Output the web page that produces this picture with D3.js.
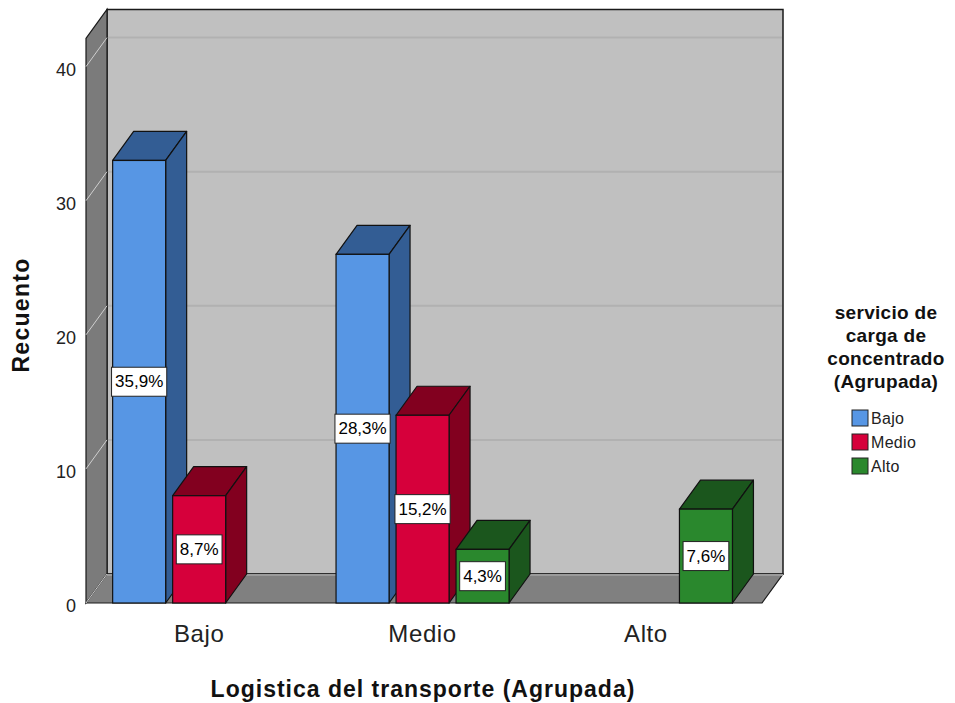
<!DOCTYPE html>
<html>
<head>
<meta charset="utf-8">
<script src="https://cdn.jsdelivr.net/npm/d3@7"></script>
<style>
  html, body { margin: 0; padding: 0; background: #fff; }
  svg { display: block; font-family: "Liberation Sans", Arial, sans-serif; }
</style>
</head>
<body>
<svg id="chart" width="955" height="703"></svg>
<script>
// Categories on the X axis and the grouping series
const categories = ["Bajo", "Medio", "Alto"];
const seriesNames = ["Bajo", "Medio", "Alto"];

// Counts (Recuento) per series, aligned with categories
const serieBajo  = [33, 26, 0];
const serieMedio = [8, 14, 0];
const serieAlto  = [0, 4, 7];

const yTicks = [0, 10, 20, 30, 40];

const seriesValues = [serieBajo, serieMedio, serieAlto];
const total = d3.sum(seriesValues.flat());

const frontColors = ["#5796e4", "#d6003b", "#2a882d"];
const darkColors  = ["#335d94", "#82001f", "#1b561d"];

// Oblique depth offset of the 3D box
const DX = 21, DY = -29;
const wallTopValue = 42.1;

const svg = d3.select("#chart");

const x = d3.scaleBand().domain(categories).range([86, 762]).paddingOuter(0.013).align(0.25);
const groupWidth = 173;
const sub = d3.scaleBand().domain(seriesNames).range([0, groupWidth]).paddingInner(7 / 60);
const y = d3.scaleLinear().domain([0, 40]).range([603, 66.6]);

const left = x.range()[0], right = x.range()[1];
const y0 = y(0), yTop = y(wallTopValue);

const g = svg.append("g");

// Back wall
g.append("polygon")
  .attr("points", [[left + DX, yTop + DY], [right + DX, yTop + DY], [right + DX, y0 + DY], [left + DX, y0 + DY]].join(" "))
  .attr("fill", "#c0c0c0").attr("stroke", "#1a1a1a").attr("stroke-width", 1.5);

// Side wall
g.append("polygon")
  .attr("points", [[left, yTop], [left + DX, yTop + DY], [left + DX, y0 + DY], [left, y0]].join(" "))
  .attr("fill", "#7b7b7b").attr("stroke", "#1a1a1a").attr("stroke-width", 1.2);

// Gridlines on the back wall and side wall
yTicks.forEach(v => {
  if (v > 0) {
    g.append("line")
      .attr("x1", left + DX + 1).attr("x2", right + DX - 1)
      .attr("y1", y(v) + DY).attr("y2", y(v) + DY)
      .attr("stroke", "#b1b1b1").attr("stroke-width", 2);
  }
  g.append("line")
    .attr("x1", left).attr("y1", y(v))
    .attr("x2", left + DX).attr("y2", y(v) + DY)
    .attr("stroke", "#cfcfcf").attr("stroke-width", 1);
});

// Floor
g.append("polygon")
  .attr("points", [[left, y0], [left + DX, y0 + DY], [right + DX, y0 + DY], [right, y0]].join(" "))
  .attr("fill", "#808080").attr("stroke", "#1a1a1a").attr("stroke-width", 1.2);
g.append("line")
  .attr("x1", left + DX).attr("x2", right + DX)
  .attr("y1", y0 + DY + 1).attr("y2", y0 + DY + 1)
  .attr("stroke", "#9a9a9a").attr("stroke-width", 2);
g.append("line")
  .attr("x1", left).attr("y1", y0).attr("x2", left + DX).attr("y2", y0 + DY)
  .attr("stroke", "#cfcfcf").attr("stroke-width", 1);

// Bars, drawn left to right so each front face covers the previous side face
const bars = [];
categories.forEach((c, ci) => {
  seriesNames.forEach((s, si) => {
    const v = seriesValues[si][ci];
    if (v > 0) bars.push({ c, s, si, v });
  });
});

const fmtPct = v => d3.format(".1f")(v / total * 100).replace(".", ",") + "%";

bars.forEach(d => {
  const x0 = x(d.c) + (x.bandwidth() - groupWidth) / 2 + sub(d.s);
  const w = sub.bandwidth();
  const yt = y(d.v);
  const bar = g.append("g");
  bar.append("polygon")
    .attr("points", [[x0, yt], [x0 + DX, yt + DY], [x0 + w + DX, yt + DY], [x0 + w, yt]].join(" "))
    .attr("fill", darkColors[d.si]).attr("stroke", "#111").attr("stroke-width", 1.2).attr("stroke-linejoin", "round");
  bar.append("polygon")
    .attr("points", [[x0 + w, yt], [x0 + w + DX, yt + DY], [x0 + w + DX, y0 + DY], [x0 + w, y0]].join(" "))
    .attr("fill", darkColors[d.si]).attr("stroke", "#111").attr("stroke-width", 1.2).attr("stroke-linejoin", "round");
  bar.append("rect")
    .attr("x", x0).attr("y", yt).attr("width", w).attr("height", y0 - yt)
    .attr("fill", frontColors[d.si]).attr("stroke", "#111").attr("stroke-width", 1.2);

  // Percentage label box
  const cx = x0 + w / 2, cy = (yt + y0) / 2;
  const t = bar.append("text")
    .attr("x", cx).attr("y", cy)
    .attr("text-anchor", "middle").attr("dominant-baseline", "central")
    .attr("font-size", 17).attr("fill", "#000")
    .text(fmtPct(d.v));
  const bb = t.node().getBBox();
  bar.insert("rect", "text")
    .attr("x", cx - bb.width / 2 - 3.5).attr("y", cy - 14.5)
    .attr("width", bb.width + 7).attr("height", 29)
    .attr("fill", "#fff").attr("stroke", "#222").attr("stroke-width", 1);
});

// Y tick labels
yTicks.forEach(v => {
  svg.append("text")
    .attr("x", 76).attr("y", y(v) + 3)
    .attr("text-anchor", "end").attr("dominant-baseline", "central")
    .attr("font-size", 18).attr("fill", "#222")
    .text(v);
});

// X category labels
categories.forEach(c => {
  svg.append("text")
    .attr("x", x(c) + x.bandwidth() / 2).attr("y", 633)
    .attr("text-anchor", "middle").attr("dominant-baseline", "central")
    .attr("font-size", 24).attr("letter-spacing", 0.6).attr("fill", "#222")
    .text(c);
});

// Axis titles
svg.append("text")
  .attr("transform", "translate(29,315) rotate(-90)")
  .attr("text-anchor", "middle")
  .attr("font-size", 23).attr("font-weight", "bold").attr("letter-spacing", 1.3).attr("fill", "#111")
  .text("Recuento");

svg.append("text")
  .attr("x", 423).attr("y", 697)
  .attr("text-anchor", "middle")
  .attr("font-size", 23).attr("font-weight", "bold").attr("letter-spacing", 1).attr("fill", "#111")
  .text("Logistica del transporte (Agrupada)");

// Legend
const legendTitle = ["servicio de", "carga de", "concentrado", "(Agrupada)"];
legendTitle.forEach((line, i) => {
  svg.append("text")
    .attr("x", 886).attr("y", 312 + i * 23)
    .attr("text-anchor", "middle").attr("dominant-baseline", "central")
    .attr("font-size", 19).attr("font-weight", "bold").attr("letter-spacing", 0.3).attr("fill", "#111")
    .text(line);
});
seriesNames.forEach((s, i) => {
  const ly = 418 + i * 24;
  svg.append("rect")
    .attr("x", 852).attr("y", ly - 8).attr("width", 16).attr("height", 16)
    .attr("fill", frontColors[i]).attr("stroke", "#222").attr("stroke-width", 1);
  svg.append("text")
    .attr("x", 871).attr("y", ly)
    .attr("dominant-baseline", "central")
    .attr("font-size", 16).attr("letter-spacing", 0.3).attr("fill", "#222")
    .text(s);
});
</script>
</body>
</html>
